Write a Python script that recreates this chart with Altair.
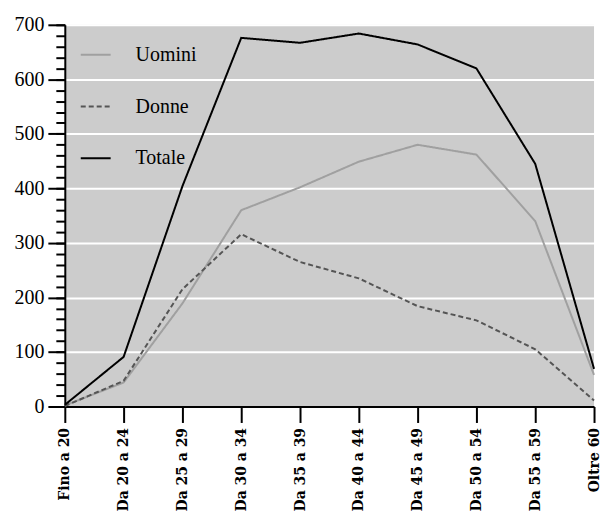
import altair as alt
import pandas as pd

categories = ["Fino a 20", "Da 20 a 24", "Da 25 a 29", "Da 30 a 34", "Da 35 a 39",
              "Da 40 a 44", "Da 45 a 49", "Da 50 a 54", "Da 55 a 59", "Oltre 60"]
uomini = [2, 44, 189, 360, 402, 449, 480, 462, 340, 58]
donne = [1, 47, 215, 316, 265, 235, 184, 158, 105, 11]
totale = [3, 91, 404, 676, 667, 684, 664, 620, 445, 69]
series = ["Uomini", "Donne", "Totale"]
colors = ["#a0a0a0", "#555555", "#000000"]
dashes = [[1, 0], [5, 3], [1, 0]]
major_ticks = [0, 100, 200, 300, 400, 500, 600, 700]
minor_ticks = list(range(0, 701, 20))

rows = []
for name, vals in zip(series, [uomini, donne, totale]):
    for c, v in zip(categories, vals):
        rows.append({"categoria": c, "serie": name, "valore": v})
df = pd.DataFrame(rows)

xenc = alt.X("categoria:N", sort=categories, title=None,
             scale=alt.Scale(type="point", padding=0),
             axis=alt.Axis(labelAngle=270, labelFont="DejaVu Serif", labelFontWeight="bold",
                           labelFontSize=14, labelColor="black", tickSize=16, tickWidth=2,
                           tickColor="black", domainColor="black", domainWidth=2,
                           labelPadding=5, grid=False))

yscale = alt.Scale(domain=[0, 700], nice=False)

lines = alt.Chart(df).mark_line(strokeWidth=2).encode(
    x=xenc,
    y=alt.Y("valore:Q", scale=yscale, title=None,
            axis=alt.Axis(values=major_ticks, orient="left", tickSize=17, tickWidth=2,
                          tickColor="black", domainColor="black", domainWidth=2,
                          labelFont="Liberation Serif", labelFontSize=20, labelColor="black",
                          labelPadding=4, grid=True, gridColor="white", gridWidth=2)),
    color=alt.Color("serie:N", sort=series, title=None,
                    scale=alt.Scale(domain=series, range=colors)),
    strokeDash=alt.StrokeDash("serie:N", sort=series, title=None,
                              scale=alt.Scale(domain=series, range=dashes)),
    order=alt.Order("serie:N"),
)

minor = alt.Chart(df).mark_point(opacity=0).encode(
    x=alt.X("categoria:N", sort=categories, scale=alt.Scale(type="point", padding=0)),
    y=alt.Y("valore:Q", scale=yscale, title=None,
            axis=alt.Axis(values=minor_ticks, orient="left", tickSize=9, tickWidth=2,
                          tickColor="black", labels=False, domain=False, grid=False)),
)

chart = alt.layer(lines, minor).resolve_axis(y="independent").properties(
    width=531, height=383,
    autosize=alt.AutoSizeParams(type="none"),
    padding={"left": 57, "top": 16, "right": 9, "bottom": 111},
).configure_view(fill="#cccccc", stroke=None).configure_legend(
    orient="none", legendX=15, legendY=14, symbolType="stroke", symbolSize=900,
    symbolStrokeWidth=2, labelFont="Liberation Serif", labelFontSize=20,
    labelColor="black", labelOffset=24, rowPadding=26, padding=0,
)

chart.save("out.html", embed_options={"renderer": "svg", "actions": False})
